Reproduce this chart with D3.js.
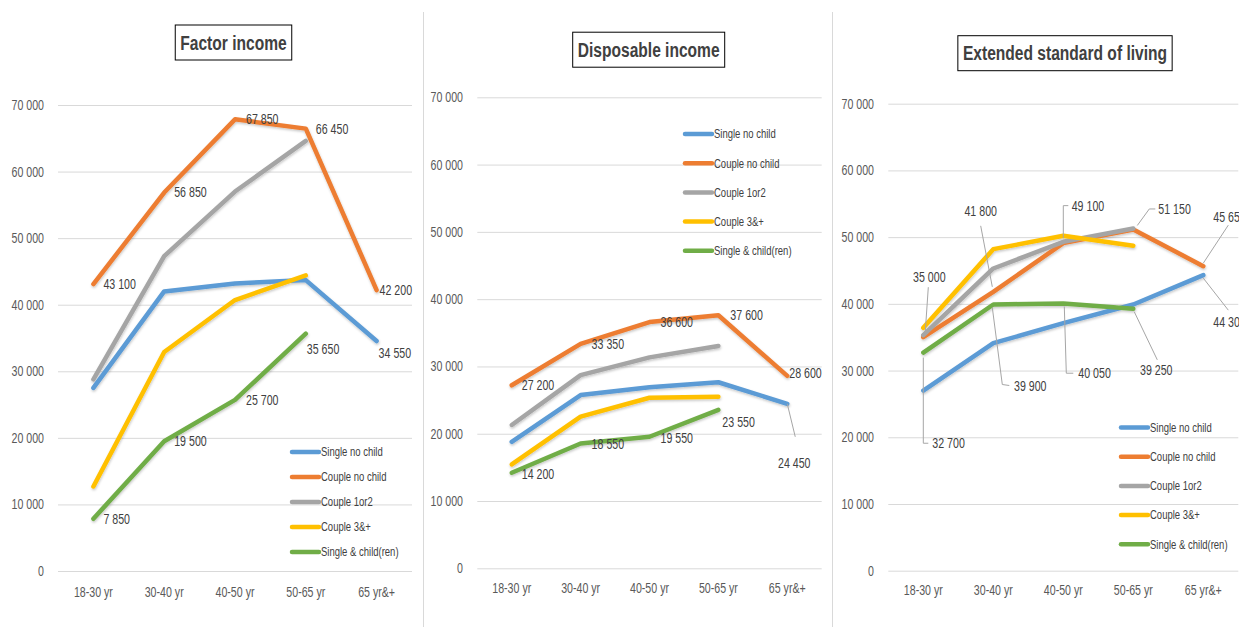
<html>
<head>
<title>income by household type</title>
<script src="https://d3js.org/d3.v7.min.js"></script>
<style>
  body { margin: 0; background: #fff; }
  svg text { font-family: "Liberation Sans", Arial, sans-serif; }
  .tick text { fill: #595959; font-size: 14px; }
  .dlabel { fill: #404040; font-size: 14px; }
  .legend text { fill: #404040; font-size: 12.5px; }
  .title { fill: #404040; font-size: 20.5px; font-weight: bold; }
</style>
</head>
<body>
<svg id="chart" width="1239" height="627"></svg>
<script>
// categories and series
const ages = ["18-30 yr", "30-40 yr", "40-50 yr", "50-65 yr", "65 yr&+"];
const seriesNames = ["Single no child", "Couple no child", "Couple 1or2", "Couple 3&+", "Single & child(ren)"];
const colors = ["#5B9BD5", "#ED7D31", "#A5A5A5", "#FFC000", "#70AD47"];
const yTicks = [0, 10000, 20000, 30000, 40000, 50000, 60000, 70000];

// Factor income
const factorSingle = [27500, 42000, 43200, 43700, 34550];
const factorCouple = [43100, 56850, 67850, 66450, 42200];
const factorCouple12 = [28800, 47300, 57000, 64600, null];
const factorCouple3 = [12700, 32900, 40700, 44400, null];
const factorSingleKids = [7850, 19500, 25700, 35650, null];

// Disposable income
const dispSingle = [18800, 25750, 26900, 27650, 24450];
const dispCouple = [27200, 33350, 36600, 37600, 28600];
const dispCouple12 = [21300, 28700, 31350, 33050, null];
const dispCouple3 = [15450, 22550, 25350, 25500, null];
const dispSingleKids = [14200, 18550, 19550, 23550, null];

// Extended standard of living
const extSingle = [27000, 34100, 37100, 39900, 44300];
const extCouple = [35000, 41800, 49100, 51150, 45650];
const extCouple12 = [35300, 45300, 49300, 51300, null];
const extCouple3 = [36400, 48200, 50200, 48700, null];
const extSingleKids = [32700, 39900, 40050, 39250, null];

const fmt = d3.formatLocale({decimal: ",", thousands: " ", grouping: [3], currency: ["", ""]}).format(",");
const squeeze = 0.76; // the original font is a narrow one

// label layout: [series, category, dx, dy, anchor, leader points relative to the point]
const panels = [
  {
    title: "Factor income", titleX: 233.5, titleY: 42.5,
    x0: 58, x1: 412, yTop: 105, yBot: 571, yLabelX: 44, xLabelY: 592,
    series: [factorSingle, factorCouple, factorCouple12, factorCouple3, factorSingleKids],
    legend: {x: 292, y: 452, step: 25},
    labels: [
      [1, 0, 10, 0], [1, 1, 10, 0], [1, 2, 11, 0], [1, 3, 10, 0], [1, 4, 3, 0],
      [4, 0, 10, 0], [4, 1, 10, 0], [4, 2, 11, 0], [4, 3, 1, 15], [0, 4, 2, 12]
    ]
  },
  {
    title: "Disposable income", titleX: 648.7, titleY: 49.7,
    x0: 477.3, x1: 821.7, yTop: 97.3, yBot: 568.3, yLabelX: 463, xLabelY: 588.5,
    series: [dispSingle, dispCouple, dispCouple12, dispCouple3, dispSingleKids],
    legend: {x: 685, y: 134, step: 29.2},
    labels: [
      [1, 0, 10, 0], [1, 1, 11, 0], [1, 2, 11, 0], [1, 3, 12, 0], [1, 4, 2, -3],
      [4, 0, 10, 1], [4, 1, 11, 1], [4, 2, 11, 1], [4, 3, 4, 12],
      [0, 4, 7, 59, "middle", [[0, 0], [8, 33]]]
    ]
  },
  {
    title: "Extended standard of living", titleX: 1065, titleY: 53.2,
    x0: 888.3, x1: 1238.3, yTop: 103.7, yBot: 570.7, yLabelX: 874, xLabelY: 590,
    series: [extSingle, extCouple, extCouple12, extCouple3, extSingleKids],
    legend: {x: 1121, y: 427.5, step: 29.2},
    labels: [
      [1, 0, 6, -60, "middle", [[2, -6], [5, -50]]],
      [1, 1, -12.6, -81, "middle", [[-1, -5], [-12.6, -66]]],
      [1, 2, 8.4, -37.5, "start", [[0, -5], [0, -37.5], [5, -37.5]]],
      [1, 3, 25, -20.5, "start", [[4, -4], [16, -20.5], [22, -20.5]]],
      [1, 4, 10, -49.5, "start", [[0, -3], [25, -41]]],
      [0, 4, 10, 46.5, "start", [[0, 3], [25, 35]]],
      [4, 0, 9, 90.7, "start", [[0, 5], [0, 90.7], [5, 90.7]]],
      [4, 1, 20.7, 81.4, "start", [[-1, 3], [9, 80], [16, 81]]],
      [4, 2, 15, 69.7, "start", [[1, 3], [3, 69.7], [10, 69.7]]],
      [4, 3, 6.7, 61, "start", [[1, 3], [24, 51]]]
    ]
  }
];

const svg = d3.select("#chart");

// faint shadow under the lines, as in the office chart
const shadow = svg.append("defs").append("filter").attr("id", "shadow")
  .attr("x", "-10%").attr("y", "-10%").attr("width", "120%").attr("height", "130%");
shadow.append("feDropShadow").attr("dx", 0.5).attr("dy", 1.5).attr("stdDeviation", 1)
  .attr("flood-color", "#000").attr("flood-opacity", 0.22);

// panel separators
[423.5, 832.5].forEach(x => {
  svg.append("line").attr("x1", x).attr("x2", x).attr("y1", 12).attr("y2", 627)
    .attr("stroke", "#D9D9D9").attr("stroke-width", 1);
});

function narrow(sel) {
  sel.each(function() {
    let t = d3.select(this);
    let x = +t.attr("x") || 0, y = +t.attr("y") || 0;
    t.attr("transform", "translate(" + x + "," + y + ") scale(" + squeeze + ",1) translate(" + (-x) + "," + (-y) + ")");
  });
}

panels.forEach(p => {
  const g = svg.append("g");
  let x = d3.scaleBand().domain(ages).range([p.x0, p.x1]);
  let y = d3.scaleLinear().domain([0, 70000]).range([p.yBot, p.yTop]);
  const cx = i => x(ages[i]) + x.bandwidth() / 2;

  // gridlines + y labels
  let yAxis = g.append("g").attr("transform", "translate(" + p.x0 + ",0)")
    .call(d3.axisLeft(y).tickValues(yTicks).tickFormat(fmt).tickSize(-(p.x1 - p.x0)).tickPadding(p.x0 - p.yLabelX));
  yAxis.select(".domain").remove();
  yAxis.selectAll(".tick line").attr("stroke", "#D9D9D9");
  narrow(yAxis.selectAll(".tick text"));

  // x labels
  let xAxis = g.append("g").attr("transform", "translate(0," + p.yBot + ")")
    .call(d3.axisBottom(x).tickSize(0).tickPadding(p.xLabelY - p.yBot - 5));
  xAxis.select(".domain").remove();
  narrow(xAxis.selectAll(".tick text"));

  // lines
  const line = d3.line()
    .defined(d => d != null)
    .x((d, i) => cx(i))
    .y(d => y(d));
  g.append("g").attr("filter", "url(#shadow)")
    .selectAll("path").data(p.series).join("path")
    .attr("fill", "none")
    .attr("stroke", (d, i) => colors[i])
    .attr("stroke-width", 4.5)
    .attr("stroke-linejoin", "round")
    .attr("stroke-linecap", "round")
    .attr("d", line);

  // data labels
  p.labels.forEach(l => {
    let [s, c, dx, dy, anchor, leader] = l;
    let px = cx(c), py = y(p.series[s][c]);
    if (leader) {
      g.append("path")
        .attr("fill", "none").attr("stroke", "#A6A6A6").attr("stroke-width", 1)
        .attr("d", d3.line()(leader.map(q => [px + q[0], py + q[1]])));
    }
    g.append("text").attr("class", "dlabel")
      .attr("x", px + dx).attr("y", py + dy)
      .attr("dy", "0.35em")
      .attr("text-anchor", anchor || "start")
      .text(fmt(p.series[s][c]))
      .call(narrow);
  });

  // legend
  let leg = g.append("g").attr("class", "legend");
  seriesNames.forEach((n, i) => {
    let ly = p.legend.y + i * p.legend.step;
    leg.append("line").attr("x1", p.legend.x).attr("x2", p.legend.x + 27)
      .attr("y1", ly).attr("y2", ly)
      .attr("stroke", colors[i]).attr("stroke-width", 4.5).attr("stroke-linecap", "round");
    leg.append("text").attr("x", p.legend.x + 29).attr("y", ly).attr("dy", "0.35em").text(n)
      .call(narrow);
  });

  // title in a box
  let t = g.append("text").attr("class", "title")
    .attr("x", p.titleX).attr("y", p.titleY).attr("dy", "0.35em")
    .attr("text-anchor", "middle").text(p.title);
  let w = t.node().getBBox().width * squeeze;
  narrow(t);
  g.insert("rect", ".title")
    .attr("x", p.titleX - w / 2 - 5).attr("y", p.titleY - 17.5)
    .attr("width", w + 10).attr("height", 35)
    .attr("fill", "#fff").attr("stroke", "#000").attr("stroke-width", 1);
});
</script>
</body>
</html>
